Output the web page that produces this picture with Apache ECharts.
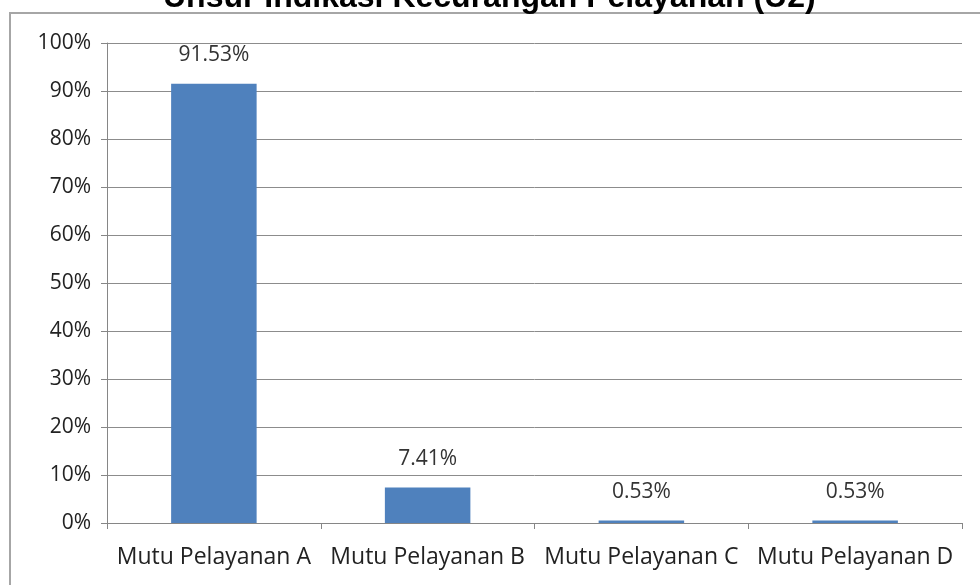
<!DOCTYPE html>
<html>
<head>
<meta charset="utf-8">
<script src="https://cdn.jsdelivr.net/npm/echarts@6/dist/echarts.min.js"></script>
<style>
html, body { margin: 0; padding: 0; background: #fff; }
#chart { width: 980px; height: 585px; }
</style>
</head>
<body>
<div id="chart"></div>
<script>
var categories = ["Mutu Pelayanan A", "Mutu Pelayanan B", "Mutu Pelayanan C", "Mutu Pelayanan D"];
var percents = [91.53, 7.41, 0.53, 0.53];
var titleText = "Unsur Indikasi Kecurangan Pelayanan (U2)";

var chart = echarts.init(document.getElementById("chart"));
chart.setOption({
    backgroundColor: "#fff",
    animation: false,
    title: {
        text: titleText, left: 158, top: -23,
        textStyle: { fontFamily: "Liberation Sans", fontWeight: "bold", fontSize: 32, color: "#000" }
    },
    graphic: [{
        type: "polyline",
        shape: { points: [[10, 600], [10, 13], [990, 13]] },
        style: { stroke: "#a6a6a6", lineWidth: 2, fill: null }
    }],
    grid: { left: 107, right: 18, top: 43, bottom: 62 },
    xAxis: {
        type: "category",
        data: categories,
        axisLine: { lineStyle: { color: "#868686" } },
        axisTick: { show: true, length: 6, lineStyle: { color: "#868686" } },
        axisLabel: { interval: 0, hideOverlap: false, margin: 23, fontFamily: "Open Sans", fontSize: 23, color: "#222" }
    },
    yAxis: {
        type: "value", min: 0, max: 100, interval: 10,
        axisLine: { show: true, lineStyle: { color: "#868686" } },
        axisTick: { show: true, length: 6, lineStyle: { color: "#868686" } },
        splitLine: { lineStyle: { color: "#8c8c8c" } },
        axisLabel: { margin: 16, fontFamily: "Open Sans", fontSize: 21, color: "#222", formatter: "{value}%" }
    },
    series: [{
        type: "bar",
        data: percents,
        barWidth: "40%",
        itemStyle: { color: "#4f81bd" },
        label: {
            show: true, position: "top", distance: 18,
            fontFamily: "Open Sans", fontSize: 21, color: "#333",
            formatter: function (p) { return p.value.toFixed(2) + "%"; }
        }
    }]
});
</script>
</body>
</html>
